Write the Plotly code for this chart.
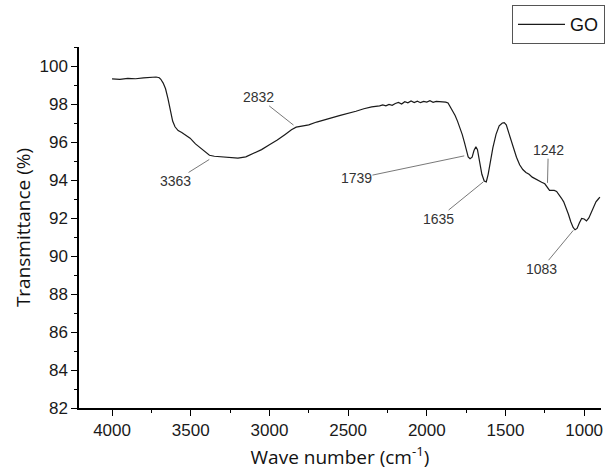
import plotly.graph_objects as go

# Wave number (cm^-1) and transmittance (%)
wavenumber = [4000, 3950, 3900, 3850, 3800, 3750, 3720, 3700, 3690, 3675, 3660, 3645, 3630, 3615,
              3600, 3580, 3557, 3530, 3504, 3470, 3441, 3410, 3381, 3350, 3300, 3250, 3200, 3150,
              3100, 3050, 3000, 2950, 2900, 2860, 2830, 2800, 2750, 2700, 2650, 2600, 2550, 2500,
              2450, 2400, 2350, 2300, 2280, 2260, 2240, 2220, 2200, 2180, 2160, 2140, 2120, 2100,
              2080, 2060, 2040, 2020, 2000, 1980, 1960, 1940, 1920, 1900, 1880, 1865, 1850, 1835,
              1820, 1805, 1790, 1775, 1760, 1748, 1737, 1725, 1712, 1700, 1688, 1678, 1665, 1650,
              1635, 1622, 1610, 1595, 1580, 1560, 1540, 1520, 1508, 1495, 1480, 1465, 1450, 1430,
              1410, 1390, 1370, 1350, 1330, 1310, 1290, 1270, 1250, 1235, 1220, 1205, 1190, 1175,
              1160, 1145, 1130, 1115, 1100, 1085, 1070, 1058, 1045, 1030, 1016, 1000, 985, 970,
              955, 940, 925, 910, 900]
transmittance = [99.32, 99.30, 99.35, 99.33, 99.38, 99.40, 99.42, 99.38, 99.30, 99.10, 98.80, 98.30,
                 97.70, 97.10, 96.80, 96.60, 96.50, 96.35, 96.20, 95.90, 95.70, 95.45, 95.30, 95.25,
                 95.22, 95.18, 95.15, 95.22, 95.40, 95.60, 95.85, 96.10, 96.40, 96.65, 96.78, 96.82,
                 96.90, 97.05, 97.15, 97.28, 97.40, 97.50, 97.62, 97.75, 97.85, 97.90, 97.95, 97.90,
                 97.98, 97.93, 98.03, 98.08, 98.00, 98.12, 98.06, 98.16, 98.08, 98.15, 98.07, 98.14,
                 98.10, 98.17, 98.09, 98.14, 98.12, 98.13, 98.10, 98.05, 97.85, 97.60, 97.40, 97.10,
                 96.80, 96.40, 95.95, 95.50, 95.22, 95.12, 95.20, 95.55, 95.75, 95.60, 95.00, 94.30,
                 93.95, 93.90, 94.30, 95.00, 95.70, 96.40, 96.85, 97.00, 97.02, 96.90, 96.50, 96.10,
                 95.80, 95.20, 94.80, 94.55, 94.40, 94.30, 94.15, 94.05, 93.95, 93.88, 93.80, 93.65,
                 93.45, 93.45, 93.45, 93.40, 93.25, 93.05, 92.85, 92.55, 92.20, 91.80, 91.50, 91.38,
                 91.45, 91.75, 91.98, 91.95, 91.85, 92.00, 92.30, 92.60, 92.85, 93.00, 93.10]

# Peak labels: text, peak position, label position
peak_labels = ["3363", "2832", "1739", "1635", "1242", "1083"]
peak_x = [3382, 2847, 1762, 1641, 1233, 1069]
peak_y = [95.08, 96.89, 95.27, 93.90, 93.85, 91.35]
label_x = [3600, 3070, 2447, 1928, 1228, 1271]
label_y = [93.95, 98.35, 94.08, 91.97, 95.57, 89.33]

x_ticks = [4000, 3500, 3000, 2500, 2000, 1500, 1000]
y_ticks = [82, 84, 86, 88, 90, 92, 94, 96, 98, 100]

fig = go.Figure()
fig.add_trace(go.Scatter(x=wavenumber, y=transmittance, mode="lines", name="GO",
                         line=dict(color="#1a1a1a", width=1.2)))

for t, px, py, lx, ly in zip(peak_labels, peak_x, peak_y, label_x, label_y):
    fig.add_annotation(x=px, y=py, ax=lx, ay=ly, axref="x", ayref="y", xref="x", yref="y",
                       text=t, showarrow=True, arrowhead=0, arrowwidth=0.8, arrowcolor="#555",
                       font=dict(family="Liberation Sans, Arial", size=14, color="#333"),
                       standoff=0, borderpad=0)

axis_common = dict(showline=True, linecolor="black", linewidth=1.5, ticks="outside",
                   ticklen=6, tickwidth=1.3, tickcolor="black", showgrid=False, zeroline=False,
                   mirror=False,
                   tickfont=dict(family="Liberation Sans, Arial", size=17, color="#1a1a1a"))

fig.update_xaxes(range=[4210, 893], tickvals=x_ticks,
                 minor=dict(dtick=250, ticks="outside", ticklen=3, tickwidth=1.2, tickcolor="black",
                            tick0=1000),
                 title=dict(text="Wave number (cm<sup>-1</sup>)",
                            font=dict(family="Open Sans", size=19, color="#111"), standoff=12),
                 **axis_common)
fig.update_yaxes(range=[82, 101], tickvals=y_ticks,
                 minor=dict(dtick=1, ticks="outside", ticklen=3, tickwidth=1.2, tickcolor="black",
                            tick0=81),
                 title=dict(text="Transmittance (%)",
                            font=dict(family="Open Sans", size=19, color="#111"), standoff=4),
                 **axis_common)

fig.update_layout(
    width=606, height=471,
    margin=dict(l=79, r=5, t=47, b=63, autoexpand=False),
    plot_bgcolor="white", paper_bgcolor="white",
    showlegend=True,
    legend=dict(x=0.8295, y=1.116, xanchor="left", yanchor="top", itemwidth=47,
                bordercolor="#555", borderwidth=1, bgcolor="white",
                font=dict(family="Liberation Sans, Arial", size=18, color="#111")),
)

fig.write_html("out.html")
